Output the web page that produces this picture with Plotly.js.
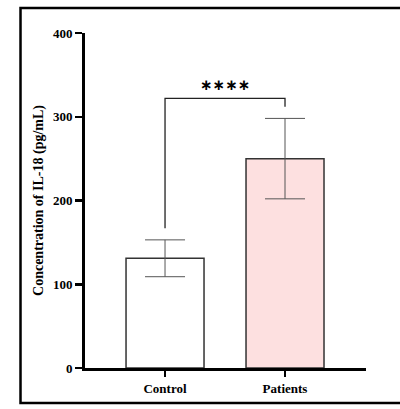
<!DOCTYPE html>
<html><head><meta charset="utf-8">
<script src="https://cdn.plot.ly/plotly-3.0.1.min.js"></script>
<style>html,body{margin:0;padding:0;background:#fff}#c{width:400px;height:409px}</style>
</head><body><div id="c"></div>
<script>
const categories = ["Control", "Patients"];
const means = [131, 250];
const errors = [22, 48];
const barColors = ["#ffffff", "#fde0e0"];
const yTicks = [0, 100, 200, 300, 400];
const sigLabel = "∗∗∗∗";
const bracketY = 322;
const bracketLeftBottom = 167;
const bracketRightBottom = 312;

const trace = {
  type: "bar",
  x: categories,
  y: means,
  width: 0.65,
  marker: {color: barColors, line: {color: "#333333", width: 1.5}},
  error_y: {type: "data", array: errors, visible: true, color: "#555555", thickness: 1, width: 20}
};
const bracket = {
  type: "scatter", mode: "lines",
  x: [categories[0], categories[0], categories[1], categories[1]],
  y: [bracketLeftBottom, bracketY, bracketY, bracketRightBottom],
  line: {color: "#222222", width: 1.3},
  hoverinfo: "skip", showlegend: false, cliponaxis: false
};
const layout = {
  width: 400, height: 409,
  margin: {l: 85, r: 34, t: 33, b: 41},
  paper_bgcolor: "#fff", plot_bgcolor: "#fff",
  showlegend: false,
  font: {family: "Liberation Serif, Times New Roman, serif", color: "#000"},
  xaxis: {
    type: "category", range: [-0.667, 1.675],
    showline: true, linecolor: "#000", linewidth: 3,
    ticks: "outside", ticklen: 6, tickwidth: 2.5, tickcolor: "#000",
    tickfont: {size: 13, family: "Liberation Serif", weight: "bold"},
    showgrid: false, zeroline: false, fixedrange: true
  },
  yaxis: {
    range: [0, 400], tickvals: yTicks,
    showline: true, linecolor: "#000", linewidth: 3,
    ticks: "outside", ticklen: 7, tickwidth: 2.5, tickcolor: "#000",
    tickfont: {size: 13, family: "Liberation Serif", weight: "bold"},
    showgrid: false, zeroline: false,
    title: {text: "Concentration of IL-18 (pg/mL)", font: {size: 14, family: "Liberation Serif", weight: "bold"}, standoff: 7}
  },
  annotations: [{
    x: 0.5, y: bracketY, xref: "x", yref: "y", text: sigLabel, showarrow: false,
    yshift: 13, font: {size: 15, family: "DejaVu Sans", weight: "bold", color: "#000"}
  }],
  shapes: [{
    type: "rect", xref: "paper", yref: "paper",
    x0: -0.2295, x1: 1.2, y0: -0.1045, y1: 1.0745,
    line: {color: "#000", width: 2.5}, fillcolor: "rgba(0,0,0,0)", layer: "above"
  }]
};
Plotly.newPlot("c", [trace, bracket], layout, {displayModeBar: false, staticPlot: true});
</script></body></html>
